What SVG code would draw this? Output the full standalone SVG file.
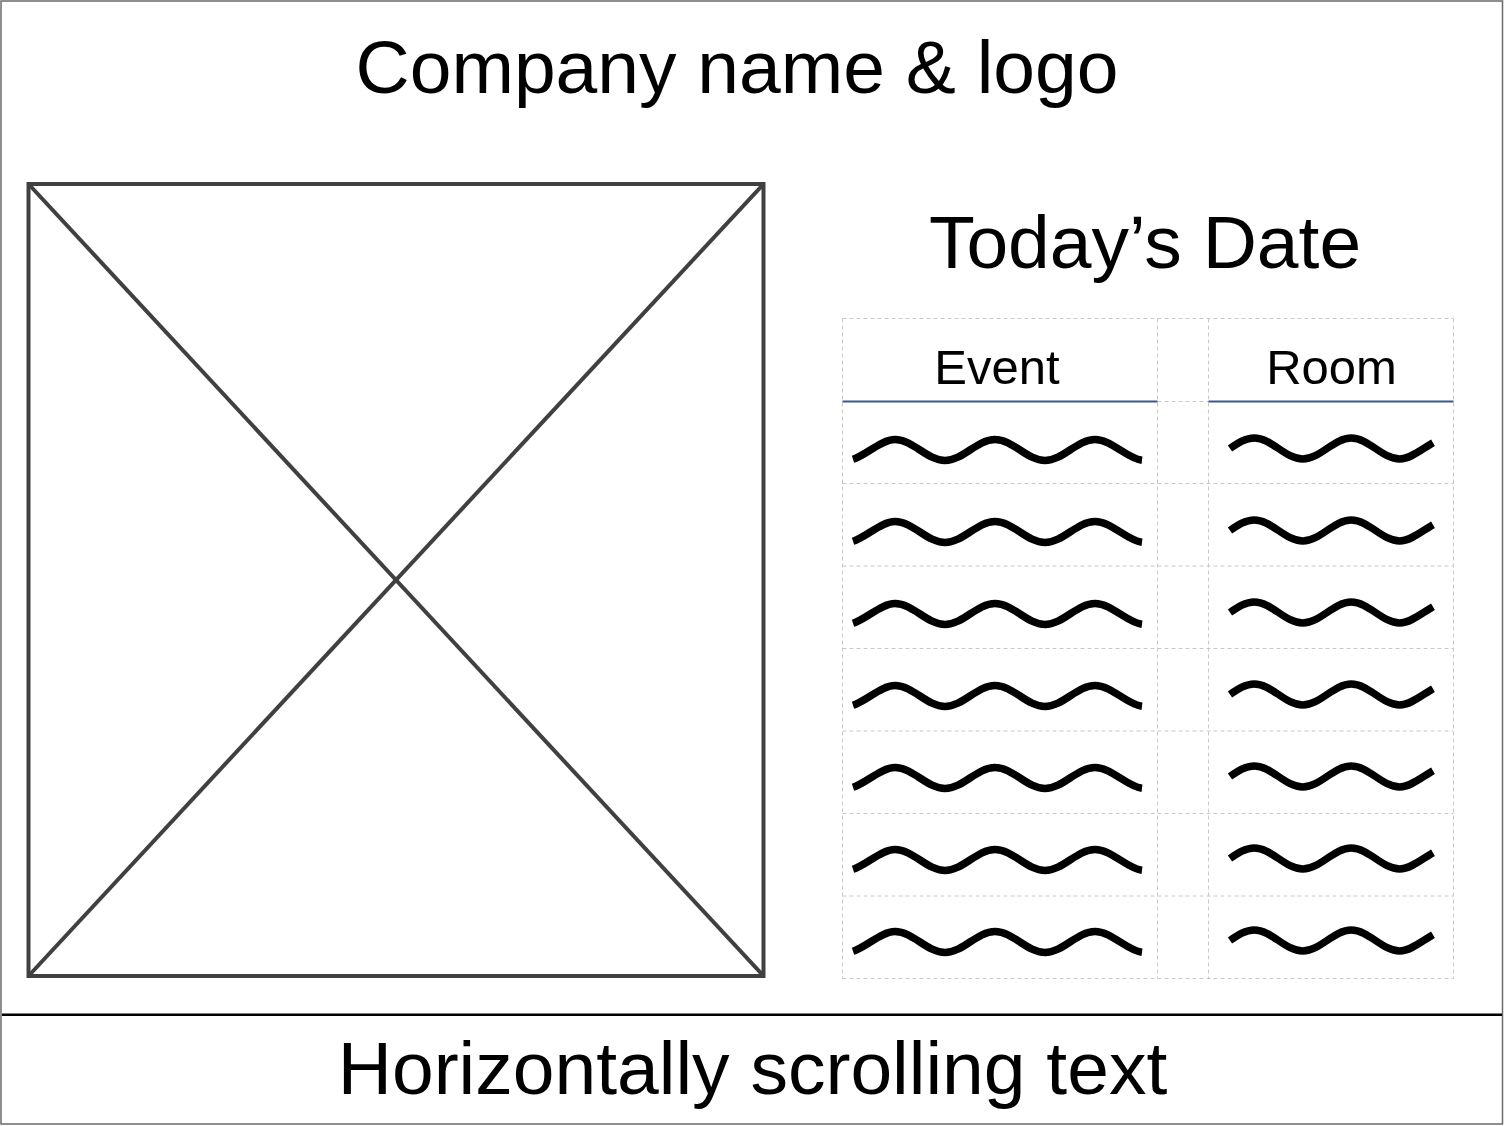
<svg xmlns="http://www.w3.org/2000/svg" xmlns:xlink="http://www.w3.org/1999/xlink" width="1504" height="1126" viewBox="0 0 1504 1126">
  <style>
    .t { font-family: "Liberation Sans", Arial, sans-serif; fill: #000; text-anchor: middle; }
    .grid { stroke: #c8c8c8; stroke-width: 1; stroke-dasharray: 4 3; fill: none; }
    .hdr { stroke: #3b5a8a; stroke-width: 2; }
    .wave { fill: none; stroke: #000; stroke-width: 7.5; stroke-linecap: butt; }
    .ph { fill: none; stroke: #404040; stroke-width: 4; }
  </style>
  <defs>
    <path id="waveE" class="wave" d="M853,9.2 C867,4.7 881,-10.5 895,-10.5 C913.2,-10.5 926.8,10.5 945,10.5 C963.2,10.5 976.8,-10.5 995,-10.5 C1013.2,-10.5 1026.8,10.5 1045,10.5 C1063.2,10.5 1076.8,-10.5 1095,-10.5 C1111.5,-10.5 1126.5,8.4 1142,10.3"/>
    <path id="waveR" class="wave" d="M1230,0 C1237.9,-5.4 1245.5,-10.5 1254.25,-10.5 C1271.9,-10.5 1285.1,10.5 1302.75,10.5 C1320.4,10.5 1333.6,-10.5 1351.25,-10.5 C1368.9,-10.5 1382.1,10.5 1399.75,10.5 C1410.75,10.5 1422,0.5 1433,-5.8"/>
  </defs>
  <rect x="0" y="0" width="1504" height="1126" fill="#fff"/>

  <g id="frame">
    <rect x="1" y="1" width="1501.5" height="1123" fill="none" stroke="#6a6a6a" stroke-width="1.5"/>
    <line x1="2" y1="1014.7" x2="1502" y2="1014.7" stroke="#000" stroke-width="2.5"/>
  </g>

  <g id="header">
    <text class="t" x="737" y="92.5" font-size="75">Company name &amp; logo</text>
  </g>

  <g id="image-placeholder">
    <rect class="ph" x="28.5" y="184" width="735" height="792"/>
    <line class="ph" x1="28.5" y1="184" x2="763.5" y2="976" stroke-width="3.5"/>
    <line class="ph" x1="763.5" y1="184" x2="28.5" y2="976" stroke-width="3.5"/>
  </g>

  <g id="date">
    <text class="t" x="1145" y="268" font-size="75">Today’s Date</text>
  </g>

  <g id="table">
    <g id="table-grid">
      <line class="grid" x1="842.5" y1="318.5" x2="842.5" y2="978.5"/>
      <line class="grid" x1="1157.5" y1="318.5" x2="1157.5" y2="978.5"/>
      <line class="grid" x1="1208.5" y1="318.5" x2="1208.5" y2="978.5"/>
      <line class="grid" x1="1453.5" y1="318.5" x2="1453.5" y2="978.5"/>
      <line class="grid" x1="842.5" y1="318.5" x2="1453.5" y2="318.5"/>
      <line class="grid" x1="842.5" y1="401.5" x2="1453.5" y2="401.5"/>
      <line class="grid" x1="842.5" y1="483.5" x2="1453.5" y2="483.5"/>
      <line class="grid" x1="842.5" y1="566" x2="1453.5" y2="566"/>
      <line class="grid" x1="842.5" y1="648.5" x2="1453.5" y2="648.5"/>
      <line class="grid" x1="842.5" y1="731" x2="1453.5" y2="731"/>
      <line class="grid" x1="842.5" y1="813.5" x2="1453.5" y2="813.5"/>
      <line class="grid" x1="842.5" y1="896" x2="1453.5" y2="896"/>
      <line class="grid" x1="842.5" y1="978.5" x2="1453.5" y2="978.5"/>
    </g>
    <g id="table-header">
      <line class="hdr" x1="842.5" y1="401.5" x2="1157.5" y2="401.5"/>
      <line class="hdr" x1="1208.5" y1="401.5" x2="1453.5" y2="401.5"/>
      <text class="t" x="997" y="384" font-size="49">Event</text>
      <text class="t" x="1331.5" y="384" font-size="49">Room</text>
    </g>
    <g id="event-rows">
      <use xlink:href="#waveE" href="#waveE" transform="translate(0,450)"/>
      <use xlink:href="#waveE" href="#waveE" transform="translate(0,532)"/>
      <use xlink:href="#waveE" href="#waveE" transform="translate(0,614)"/>
      <use xlink:href="#waveE" href="#waveE" transform="translate(0,696)"/>
      <use xlink:href="#waveE" href="#waveE" transform="translate(0,778)"/>
      <use xlink:href="#waveE" href="#waveE" transform="translate(0,860)"/>
      <use xlink:href="#waveE" href="#waveE" transform="translate(0,942)"/>
    </g>
    <g id="room-rows">
      <use xlink:href="#waveR" href="#waveR" transform="translate(0,448.5)"/>
      <use xlink:href="#waveR" href="#waveR" transform="translate(0,530.5)"/>
      <use xlink:href="#waveR" href="#waveR" transform="translate(0,612.5)"/>
      <use xlink:href="#waveR" href="#waveR" transform="translate(0,694.5)"/>
      <use xlink:href="#waveR" href="#waveR" transform="translate(0,776.5)"/>
      <use xlink:href="#waveR" href="#waveR" transform="translate(0,858.5)"/>
      <use xlink:href="#waveR" href="#waveR" transform="translate(0,940.5)"/>
    </g>
  </g>

  <g id="footer">
    <text class="t" x="752.5" y="1093.5" font-size="75">Horizontally scrolling text</text>
  </g>
</svg>
